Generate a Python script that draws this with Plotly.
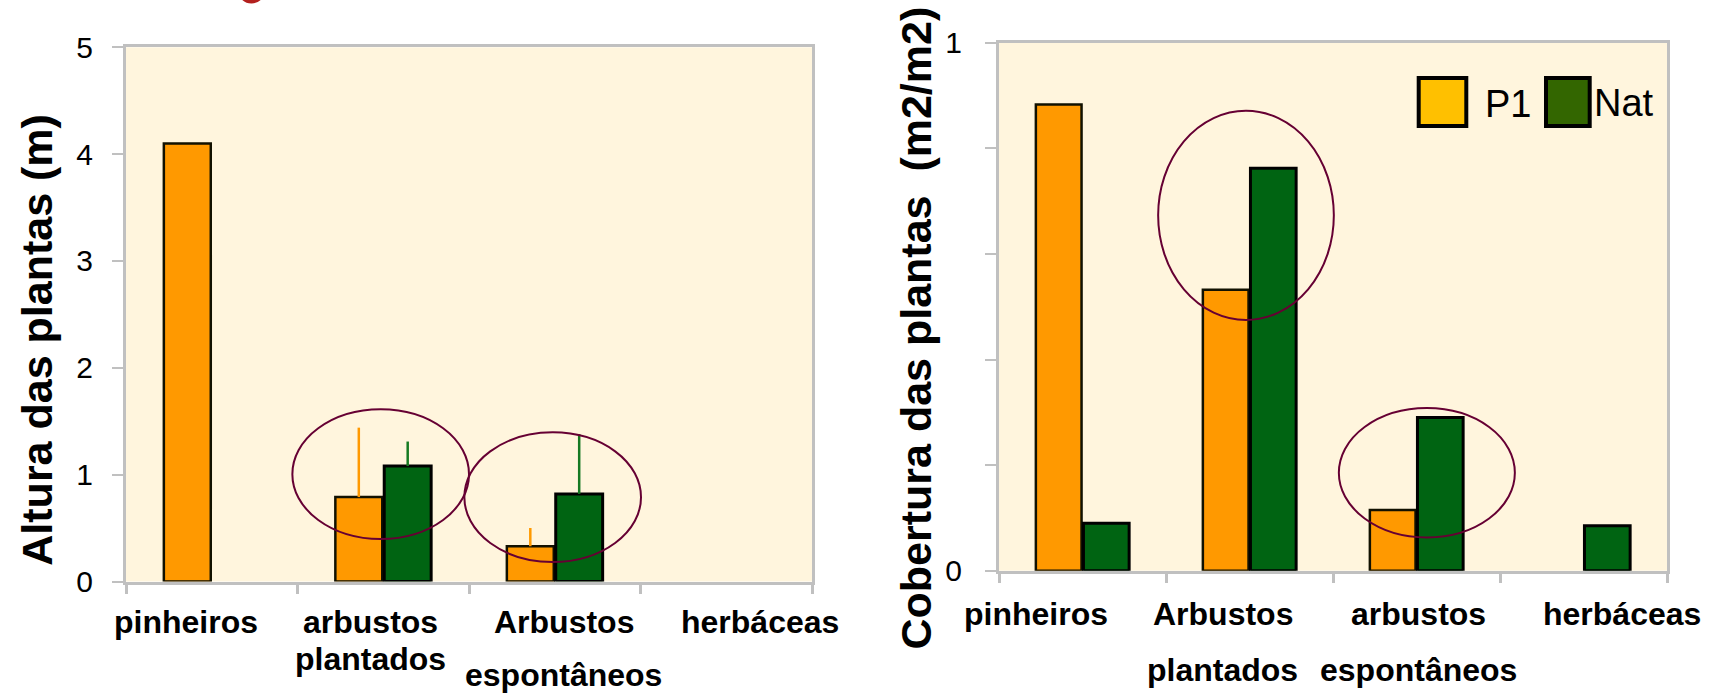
import plotly.graph_objects as go

# ---- data -------------------------------------------------------------
cats_altura = ["pinheiros", "arbustos plantados", "Arbustos espontâneos", "herbáceas"]
altura_p1 = [4.10, 0.79, 0.33, None]
altura_nat = [None, 1.08, 0.82, None]
altura_p1_err = [None, 0.65, 0.17, None]
altura_nat_err = [None, 0.23, 0.56, None]

cats_cobertura = ["pinheiros", "Arbustos plantados", "arbustos espontâneos", "herbáceas"]
cobertura_p1 = [0.883, 0.532, 0.115, None]
cobertura_nat = [0.090, 0.762, 0.290, 0.085]

altura_ticks = [0, 1, 2, 3, 4, 5]
cobertura_ticks = [0, 0.2, 0.4, 0.6, 0.8, 1.0]
cobertura_ticktext = ["0", "", "", "", "", "1"]

series_names = ["P1", "Nat"]

# ---- styling ----------------------------------------------------------
W, H = 1712, 693
ORANGE = "#FF9900"
GREEN = "#006412"
BG = "#FFF5DD"
AXIS_GREY = "#C0C0C0"
RING = "#660033"
FONT = "Arial, Liberation Sans, sans-serif"


def fx(p):
    return p / W


def fy(p):
    return 1 - p / H


fig = go.Figure()

bar_line = dict(color="#111100", width=2.5)

fig.add_trace(go.Bar(
    x=cats_altura, y=altura_p1, name=series_names[0],
    marker=dict(color=ORANGE, line=bar_line),
    error_y=dict(type="data", symmetric=False, array=altura_p1_err,
                 arrayminus=[0, 0, 0, 0], color=ORANGE, thickness=2.5, width=0),
    xaxis="x", yaxis="y", showlegend=False))
fig.add_trace(go.Bar(
    x=cats_altura, y=altura_nat, name=series_names[1],
    marker=dict(color=GREEN, line=dict(color="#000000", width=3)),
    error_y=dict(type="data", symmetric=False, array=altura_nat_err,
                 arrayminus=[0, 0, 0, 0], color="#167A22", thickness=2.5, width=0),
    xaxis="x", yaxis="y", showlegend=False))

fig.add_trace(go.Bar(
    x=cats_cobertura, y=cobertura_p1, name=series_names[0],
    marker=dict(color=ORANGE, line=bar_line),
    xaxis="x2", yaxis="y2", showlegend=False))
fig.add_trace(go.Bar(
    x=cats_cobertura, y=cobertura_nat, name=series_names[1],
    marker=dict(color=GREEN, line=dict(color="#000000", width=3)),
    xaxis="x2", yaxis="y2", showlegend=False))

xaxis_common = dict(
    type="category", range=[-0.5, 3.5], showline=True, linecolor=AXIS_GREY,
    linewidth=3, mirror=True, ticks="outside", tickson="boundaries",
    ticklen=9, tickwidth=3, tickcolor=AXIS_GREY, showticklabels=False,
    showgrid=False, zeroline=False, automargin=False, fixedrange=True)
yaxis_common = dict(
    showline=True, linecolor=AXIS_GREY, linewidth=3, mirror=True,
    ticks="outside", ticklen=11, tickwidth=2, tickcolor=AXIS_GREY,
    showgrid=False, zeroline=False, automargin=False,
    tickfont=dict(family=FONT, size=30, color="#000000"))

fig.update_layout(
    width=W, height=H,
    margin=dict(l=0, r=0, t=0, b=0),
    paper_bgcolor="#FFFFFF", plot_bgcolor=BG,
    barmode="group", bargap=0.43, bargroupgap=0.04,
    xaxis=dict(domain=[fx(126), fx(812)], anchor="y", **xaxis_common),
    yaxis=dict(domain=[fy(581.5), fy(47.3)], anchor="x", range=[0, 5],
               tickvals=altura_ticks, ticklabelstandoff=13, **yaxis_common),
    xaxis2=dict(domain=[fx(999), fx(1667)], anchor="y2", **xaxis_common),
    yaxis2=dict(domain=[fy(570.7), fy(42.7)], anchor="x2", range=[0, 1],
                tickvals=cobertura_ticks, ticktext=cobertura_ticktext,
                ticklabelstandoff=17, **yaxis_common),
)

# ---- highlight rings around the shrub groups ---------------------------
shapes = []
for xr, yr, x0, x1, y0, y1 in [
    ("x", "y", 0.47, 1.50, 0.398, 1.612),
    ("x", "y", 1.473, 2.503, 0.182, 1.396),
    ("x2", "y2", 0.453, 1.505, 0.475, 0.871),
    ("x2", "y2", 1.535, 2.589, 0.063, 0.308),
]:
    shapes.append(dict(type="circle", xref=xr, yref=yr, x0=x0, x1=x1,
                       y0=y0, y1=y1, line=dict(color=RING, width=2),
                       fillcolor="rgba(0,0,0,0)", layer="above"))

# legend swatches
shapes.append(dict(type="rect", xref="paper", yref="paper",
                   x0=fx(1418.7), x1=fx(1466.3), y0=fy(126), y1=fy(78),
                   fillcolor="#FFC000", line=dict(color="#000000", width=4)))
shapes.append(dict(type="rect", xref="paper", yref="paper",
                   x0=fx(1546), x1=fx(1589.7), y0=fy(126), y1=fy(78),
                   fillcolor="#336600", line=dict(color="#000000", width=4)))

# red mark at the top edge
shapes.append(dict(type="circle", xref="paper", yref="paper",
                   x0=fx(240.5), x1=fx(262.5), y0=fy(1), y1=fy(-20),
                   line=dict(color="#B3201E", width=5),
                   fillcolor="rgba(0,0,0,0)"))

fig.update_layout(shapes=shapes)

# ---- text ------------------------------------------------------------
ann = []
cat_font = dict(family=FONT, size=32, color="#000000")


def cat_label(xref, cat, text, shift, base):
    ann.append(dict(xref=xref, yref="paper", x=cat, y=fy(base - 11.5),
                    xshift=shift, text=text, showarrow=False,
                    xanchor="center", yanchor="middle",
                    font=cat_font))


# left chart category labels
cat_label("x", cats_altura[0], "<b>pinheiros</b>", -26, 633.3)
cat_label("x", cats_altura[1], "<b>arbustos</b>", -12.5, 633.3)
cat_label("x", cats_altura[1], "<b>plantados</b>", -12.5, 670)
cat_label("x", cats_altura[2], "<b>Arbustos</b>", 9, 633.3)
cat_label("x", cats_altura[2], "<b>espontâneos</b>", 8.5, 686)
cat_label("x", cats_altura[3], "<b>herbáceas</b>", 34, 633.3)

# right chart category labels
cat_label("x2", cats_cobertura[0], "<b>pinheiros</b>", -47, 625)
cat_label("x2", cats_cobertura[1], "<b>Arbustos</b>", -26.5, 625)
cat_label("x2", cats_cobertura[1], "<b>plantados</b>", -27, 681.7)
cat_label("x2", cats_cobertura[2], "<b>arbustos</b>", 2, 625)
cat_label("x2", cats_cobertura[2], "<b>espontâneos</b>", 1.5, 681.7)
cat_label("x2", cats_cobertura[3], "<b>herbáceas</b>", 38.5, 625)

# axis titles
title_font = dict(family=FONT, size=43, color="#000000")
ann.append(dict(xref="paper", yref="paper", x=fx(36.7), y=fy(340),
                text="<b>Altura das plantas (m)</b>", textangle=-90,
                showarrow=False, xanchor="center", yanchor="middle",
                font=title_font))
ann.append(dict(xref="paper", yref="paper", x=fx(915), y=fy(328.5),
                text="<b>Cobertura das plantas  (m2/m2)</b>", textangle=-90,
                showarrow=False, xanchor="center", yanchor="middle",
                font=title_font))

# legend labels
legend_font = dict(family=FONT, size=38, color="#000000")
ann.append(dict(xref="paper", yref="paper", x=fx(1483), y=fy(104),
                text=series_names[0], showarrow=False, xanchor="left",
                yanchor="middle", font=legend_font))
ann.append(dict(xref="paper", yref="paper", x=fx(1592), y=fy(103),
                text=series_names[1], showarrow=False, xanchor="left",
                yanchor="middle", font=legend_font))

fig.update_layout(annotations=ann)

fig.write_html("out.html", config={"displayModeBar": False})
